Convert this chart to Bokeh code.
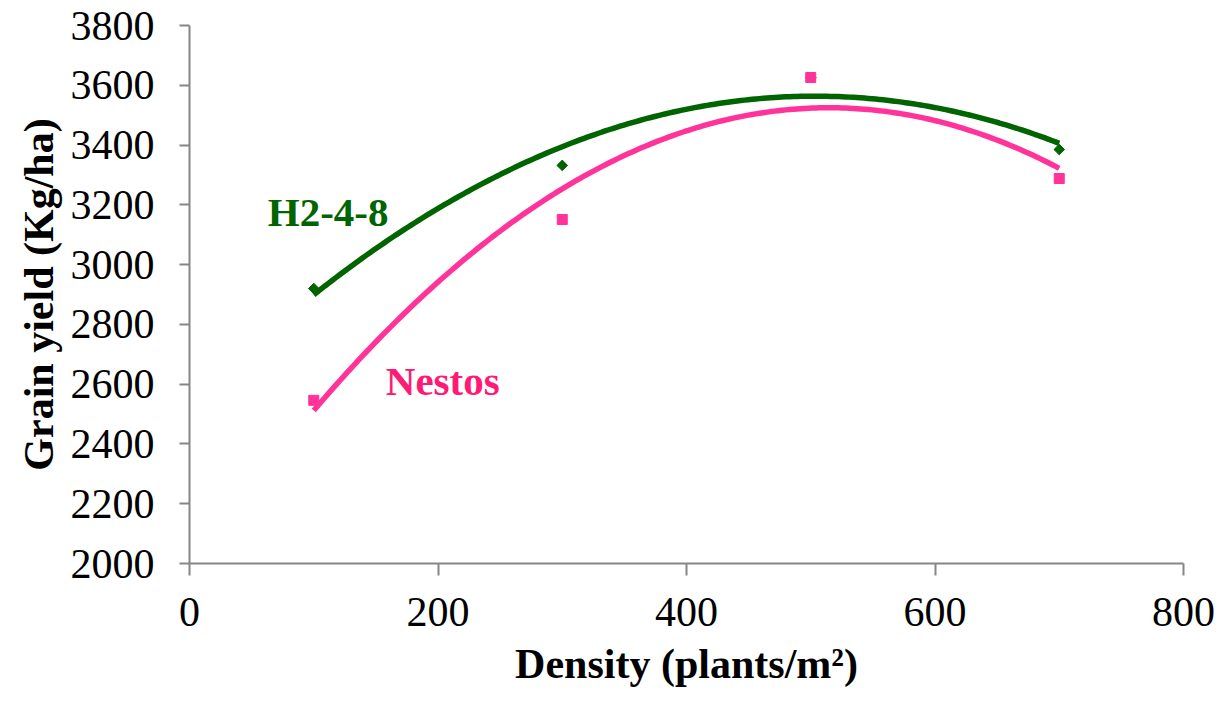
import numpy as np
from bokeh.plotting import figure
from bokeh.models import Range1d, FixedTicker, Label
from bokeh.embed import file_html
from bokeh.resources import INLINE

# Data
density = [100, 300, 500, 700]
h248_yield = [2920, 3332, 3626, 3385]
nestos_yield = [2546, 3151, 3626, 3288]
x_ticks = [0, 200, 400, 600, 800]
y_ticks = [2000, 2200, 2400, 2600, 2800, 3000, 3200, 3400, 3600, 3800]

GREEN = "#006400"
PINK_LINE = "#FF3399"
PINK_TEXT = "#FF1A75"
FONT = "Liberation Serif"

p = figure(width=1220, height=704, output_backend="svg", toolbar_location=None,
           x_range=Range1d(0, 800), y_range=Range1d(2000, 3800),
           min_border_left=189, min_border_right=37, min_border_top=25, min_border_bottom=141)
p.outline_line_color = None
p.grid.grid_line_color = None
p.background_fill_color = "white"
p.border_fill_color = "white"

# Polynomial (order 2) trend lines, fitted to the data
xs = np.linspace(min(density), max(density), 200)
for yv, col in ((h248_yield, GREEN), (nestos_yield, PINK_LINE)):
    coef = np.polyfit(density, yv, 2)
    p.line(xs, np.polyval(coef, xs), line_color=col, line_width=5.5)

p.scatter(density, h248_yield, marker="square", angle=np.pi / 4, size=7.5,
          fill_color=GREEN, line_color=GREEN)
p.scatter(density, nestos_yield, marker="square", size=10,
          fill_color=PINK_LINE, line_color=PINK_LINE)

p.add_layout(Label(x=63, y=3175, text="H2-4-8", text_font=FONT, text_font_style="bold",
                   text_font_size="41px", text_color=GREEN, text_baseline="middle"))
p.add_layout(Label(x=158, y=2612, text="Nestos", text_font=FONT, text_font_style="bold",
                   text_font_size="41px", text_color=PINK_TEXT, text_baseline="middle"))

for ax in (p.xaxis[0], p.yaxis[0]):
    ax.axis_line_color = "#868686"
    ax.axis_line_width = 2
    ax.major_tick_line_color = "#868686"
    ax.major_tick_line_width = 2
    ax.major_tick_in = 0
    ax.minor_tick_line_color = None
    ax.major_label_text_font = FONT
    ax.major_label_text_font_size = "42px"
    ax.major_label_text_color = "black"
    ax.axis_label_text_font = FONT
    ax.axis_label_text_font_style = "bold"
    ax.axis_label_text_font_size = "42px"
    ax.axis_label_text_color = "black"

p.xaxis.ticker = FixedTicker(ticks=x_ticks)
p.yaxis.ticker = FixedTicker(ticks=y_ticks)
p.xaxis.major_tick_out = 12
p.yaxis.major_tick_out = 10
p.xaxis.major_label_standoff = 22
p.yaxis.major_label_standoff = 25
p.xaxis.axis_label = "Density (plants/m²)"
p.yaxis.axis_label = "Grain yield (Kg/ha)"
p.xaxis.axis_label_standoff = 12
p.yaxis.axis_label_standoff = 6

open("out.html", "w").write(file_html(p, INLINE))
